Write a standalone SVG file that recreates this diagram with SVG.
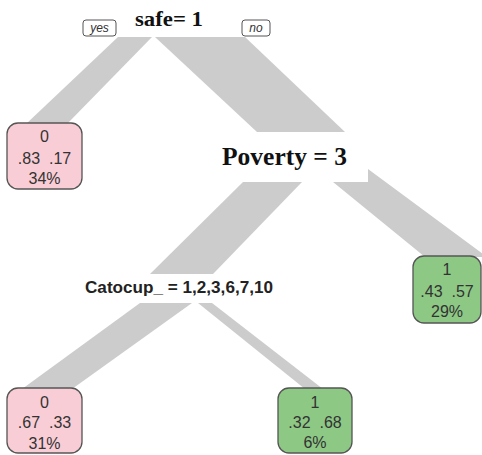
<svg xmlns="http://www.w3.org/2000/svg" width="482" height="455" viewBox="0 0 482 455">
<style>
.br{fill:#cccccc;stroke:none}
.box{stroke:#555555;stroke-width:1.3}
.pink{fill:#f9cdd5}
.green{fill:#8dc885}
.nt{font-family:"Liberation Sans",Arial,sans-serif;font-size:16px;fill:#333333;text-anchor:middle;white-space:pre}
.yn{fill:#ffffff;stroke:#555555;stroke-width:1}
.ynt{font-family:"Liberation Sans",Arial,sans-serif;font-size:12px;font-style:italic;fill:#333333;text-anchor:middle}
.lab{font-family:"Liberation Serif","Times New Roman",serif;font-weight:bold;fill:#111111;text-anchor:middle}
.lab2{font-family:"Liberation Sans",Arial,sans-serif;font-weight:bold;font-size:17px;fill:#222222;text-anchor:middle}
</style>
<rect width="482" height="455" fill="#ffffff"/>
<g id="connectors">
<polygon class="br" points="118,37 152,37 67,124 26,124"/>
<polygon class="br" points="155,37 245,37 345,132 257,132"/>
<polygon class="br" points="243,182 302,182 213,274 150,274"/>
<polygon class="br" points="368,169 487,257 425,257 333,182 368,182"/>
<polygon class="br" points="140,303 192,303 72,389 22,389"/>
<polygon class="br" points="198,303 212,303 323,389 305,389"/>
</g>
<g id="node-safe">
<text class="lab" x="169" y="26" font-size="21" textLength="68" lengthAdjust="spacingAndGlyphs">safe= 1</text>
</g>
<g id="label-yes">
<rect class="yn" x="83" y="20" width="33" height="16" rx="3"/>
<text class="ynt" x="99.5" y="32">yes</text>
</g>
<g id="label-no">
<rect class="yn" x="242" y="20" width="28" height="16" rx="3"/>
<text class="ynt" x="256" y="32">no</text>
</g>
<g id="leaf-34">
<rect class="box pink" x="7" y="123" width="75" height="66" rx="11"/>
<text class="nt" x="44.5" y="142">0</text>
<text class="nt" x="44.5" y="164">.83  .17</text>
<text class="nt" x="44.5" y="184">34%</text>
</g>
<g id="node-poverty">
<text class="lab" x="284.5" y="165" font-size="26" textLength="125" lengthAdjust="spacingAndGlyphs">Poverty = 3</text>
</g>
<g id="leaf-29">
<rect class="box green" x="413" y="256" width="68" height="67" rx="11"/>
<text class="nt" x="447" y="275">1</text>
<text class="nt" x="447" y="297">.43  .57</text>
<text class="nt" x="447" y="317">29%</text>
</g>
<g id="node-catocup">
<text class="lab2" x="179" y="293" textLength="188" lengthAdjust="spacingAndGlyphs">Catocup_ = 1,2,3,6,7,10</text>
</g>
<g id="leaf-31">
<rect class="box pink" x="7" y="388" width="75" height="65" rx="11"/>
<text class="nt" x="44.5" y="408">0</text>
<text class="nt" x="44.5" y="428">.67  .33</text>
<text class="nt" x="44.5" y="449">31%</text>
</g>
<g id="leaf-6">
<rect class="box green" x="278" y="388" width="74" height="65" rx="11"/>
<text class="nt" x="315" y="408">1</text>
<text class="nt" x="315" y="428">.32  .68</text>
<text class="nt" x="315" y="448">6%</text>
</g>
</svg>
